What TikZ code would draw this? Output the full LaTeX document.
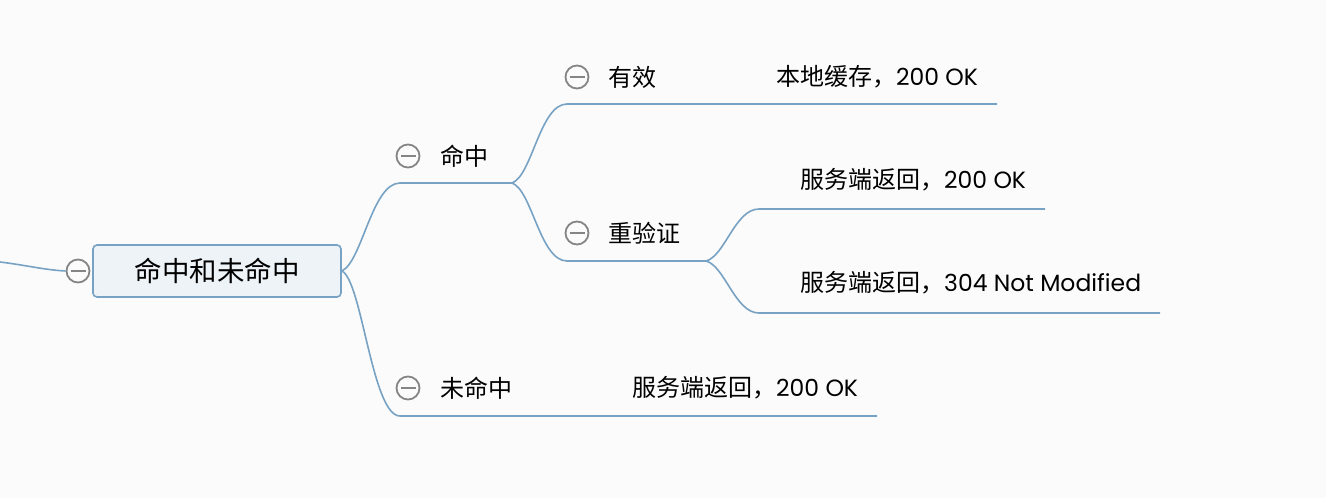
\documentclass[tikz,border=0pt]{standalone}
\usepackage{fontspec}
\setmainfont{Poppins}
\newfontfamily\cjk{Noto Sans CJK SC}
\definecolor{bg}{HTML}{FBFBFB}
\definecolor{ln}{HTML}{78A2C3}
\definecolor{rootfill}{HTML}{EEF3F7}
\definecolor{cir}{HTML}{858585}
\definecolor{txt}{HTML}{000000}
\tikzset{
 conn/.style={draw=ln, line width=1.6pt},
 collapse/.style={circle, draw=cir, line width=1.8pt, minimum size=23pt, inner sep=0pt, fill=bg,
   path picture={\draw[cir,line width=1.8pt] ([xshift=-7.5pt]path picture bounding box.center) -- ([xshift=7.5pt]path picture bounding box.center);}},
 rootbox/.style={rectangle, rounded corners=4pt, draw=ln, line width=1.6pt, fill=rootfill, minimum width=248pt, minimum height=52pt, inner sep=0pt, font=\cjk\fontsize{27.5}{31}\selectfont, text=txt},
 lbl/.style={anchor=west, inner sep=0pt, font=\cjk\fontsize{24}{28}\selectfont, text=txt},
 res/.style={anchor=west, inner sep=0pt, font=\fontsize{23.5}{28}\selectfont, text=txt},
}
\newcommand{\zh}[1]{{\cjk\fontsize{24}{28}\selectfont #1}}
\begin{document}
\begin{tikzpicture}[x=1pt,y=-1pt]
\fill[bg] (0,0) rectangle (1326,498);
\useasboundingbox (0,0) rectangle (1326,498);

% coordinates
\coordinate (in) at (0,262);
\coordinate (h1s) at (400,183);
\coordinate (h1e) at (512,183);
\coordinate (h2s) at (400,416);
\coordinate (h2e) at (877,416);
\coordinate (h11s) at (567,104);
\coordinate (h11e) at (997,104);
\coordinate (h12s) at (567,261);
\coordinate (h12e) at (706,261);
\coordinate (h121s) at (759,209);
\coordinate (h121e) at (1045,209);
\coordinate (h122s) at (759,313);
\coordinate (h122e) at (1160,313);

% root
\node[rootbox] (root) at (217,271) {命中和未命中};
\node[collapse] (c0) at (78,271) {};
\draw[conn] (in) .. controls (25,265) and (45,270) .. (c0.west);

% connectors
\draw[conn] (root.east) .. controls (362,262) and (372,183) .. (h1s) -- (h1e);
\draw[conn] (root.east) .. controls (362,280) and (372,416) .. (h2s) -- (h2e);
\draw[conn] (h1e) .. controls (532,176) and (540,104) .. (h11s) -- (h11e);
\draw[conn] (h1e) .. controls (532,190) and (540,261) .. (h12s) -- (h12e);
\draw[conn] (h12e) .. controls (725,256) and (735,209) .. (h121s) -- (h121e);
\draw[conn] (h12e) .. controls (725,266) and (735,313) .. (h122s) -- (h122e);

% labels
\node[collapse] (c1) at (408,156) {};
\node[lbl] (t1) at (440,156) {命中};
\node[collapse] (c2) at (408,388) {};
\node[lbl] (t2) at (440,388) {未命中};
\node[res] (r2) at (632,388) {\zh{服务端返回，}200 OK};
\node[collapse] (c11) at (577,77) {};
\node[lbl] (t11) at (608,77) {有效};
\node[res] (r11) at (776,77) {\zh{本地缓存，}200 OK};
\node[collapse] (c12) at (577,233) {};
\node[lbl] (t12) at (608,233) {重验证};
\node[res] (r121) at (800,180) {\zh{服务端返回，}200 OK};
\node[res] (r122) at (800,283) {\zh{服务端返回，}304 Not Modified};
\end{tikzpicture}
\end{document}
